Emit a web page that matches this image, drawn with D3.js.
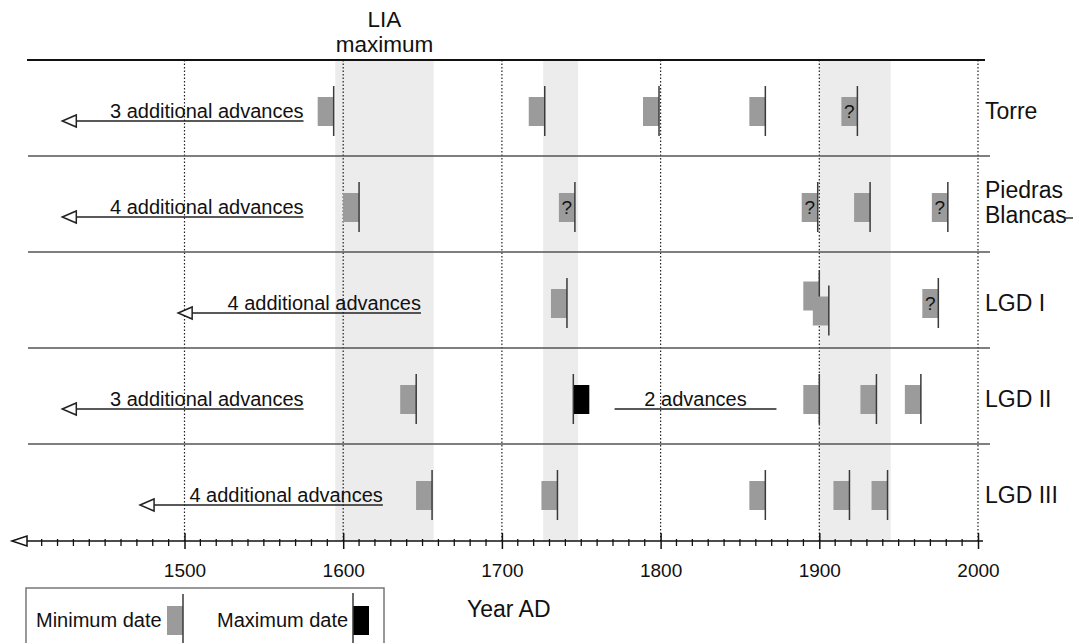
<!DOCTYPE html>
<html>
<head>
<meta charset="utf-8">
<script src="https://cdn.jsdelivr.net/npm/d3@7"></script>
<style>
  body { margin: 0; background: #fff; }
  svg { display: block; font-family: "Liberation Sans", Arial, sans-serif; }
</style>
</head>
<body>
<svg id="chart" width="1073" height="643"></svg>
<script>
// glaciers, top to bottom
const rows = ["Torre", "Piedras Blancas", "LGD I", "LGD II", "LGD III"]
const rowLabels = [["Torre"], ["Piedras", "Blancas"], ["LGD I"], ["LGD II"], ["LGD III"]]

// shaded periods (LIA maximum and the two later ones)
const bands = [[1595, 1657], [1726, 1748], [1900, 1945]]

const centuryTicks = [1500, 1600, 1700, 1800, 1900, 2000]
const minorTicks = d3.range(1410, 2000, 10).filter(d => d % 100 !== 0)

// minimum dates: glacier, year, uncertain?, stack (-1 up / 1 down when two overlap)
const minDates = [
  ["Torre", 1594, false, 0],
  ["Torre", 1727, false, 0],
  ["Torre", 1799, false, 0],
  ["Torre", 1866, false, 0],
  ["Torre", 1924, true, 0],
  ["Piedras Blancas", 1610, false, 0],
  ["Piedras Blancas", 1746, true, 0],
  ["Piedras Blancas", 1899, true, 0],
  ["Piedras Blancas", 1932, false, 0],
  ["Piedras Blancas", 1981, true, 0],
  ["LGD I", 1741, false, 0],
  ["LGD I", 1900, false, -1],
  ["LGD I", 1906, false, 1],
  ["LGD I", 1975, true, 0],
  ["LGD II", 1646, false, 0],
  ["LGD II", 1900, false, 0],
  ["LGD II", 1936, false, 0],
  ["LGD II", 1964, false, 0],
  ["LGD III", 1656, false, 0],
  ["LGD III", 1735, false, 0],
  ["LGD III", 1866, false, 0],
  ["LGD III", 1919, false, 0],
  ["LGD III", 1943, false, 0]
]

// maximum dates: glacier, year
const maxDates = [["LGD II", 1745]]

// notes: glacier, start year, end year, text, arrow?
const notes = [
  ["Torre", 1423, 1575, "3 additional advances", true],
  ["Piedras Blancas", 1423, 1575, "4 additional advances", true],
  ["LGD I", 1496, 1649, "4 additional advances", true],
  ["LGD II", 1423, 1575, "3 additional advances", true],
  ["LGD III", 1472, 1625, "4 additional advances", true],
  ["LGD II", 1771, 1873, "2 advances", false]
]

const svg = d3.select("#chart")
const axisY = 541
const markW = 16
const gray = "#9b9b9b"
const dark = "#3a3a3a"

const x = d3.scaleLinear().domain([1500, 2000]).range([184.5, 978])
const y = d3.scaleBand().domain(rows).range([60, 540])

// shaded periods
svg.append("g").selectAll("rect").data(bands).join("rect")
  .attr("x", d => x(d[0]))
  .attr("width", d => x(d[1]) - x(d[0]))
  .attr("y", 60)
  .attr("height", axisY - 60)
  .attr("fill", "#ececec")

// dotted century lines
svg.append("g").selectAll("line").data(centuryTicks).join("line")
  .attr("x1", d => x(d)).attr("x2", d => x(d))
  .attr("y1", 60).attr("y2", axisY)
  .attr("stroke", "#222").attr("stroke-width", 1.2)
  .attr("stroke-dasharray", "1.5,2")

// row separators
svg.append("g").selectAll("line").data(rows.slice(1)).join("line")
  .attr("x1", 28).attr("x2", 990)
  .attr("y1", d => y(d)).attr("y2", d => y(d))
  .attr("stroke", "#555").attr("stroke-width", 1.5)
svg.append("line")
  .attr("x1", 27).attr("x2", 985).attr("y1", 60).attr("y2", 60)
  .attr("stroke", "#111").attr("stroke-width", 2)

// "LIA maximum"
const lia = svg.append("text")
  .attr("text-anchor", "middle").attr("font-size", 22.5).attr("fill", "#111")
lia.append("tspan").attr("x", x((bands[0][0] + bands[0][1]) / 2)).attr("y", 27).text("LIA")
lia.append("tspan").attr("x", x((bands[0][0] + bands[0][1]) / 2)).attr("y", 52).text("maximum")

// minimum date markers
const mins = svg.append("g").selectAll("g").data(minDates).join("g")
  .attr("transform", d => `translate(${x(d[1])},${y(d[0]) + d[3] * 7.5})`)
mins.append("rect")
  .attr("x", -markW).attr("width", markW)
  .attr("y", 37).attr("height", 29)
  .attr("fill", gray)
mins.append("line")
  .attr("y1", 26).attr("y2", 76)
  .attr("stroke", dark).attr("stroke-width", 1.5)
mins.filter(d => d[2]).append("text")
  .attr("x", -markW / 2).attr("y", 58)
  .attr("text-anchor", "middle").attr("font-size", 19).attr("fill", "#111")
  .text("?")

// maximum date markers
const maxs = svg.append("g").selectAll("g").data(maxDates).join("g")
  .attr("transform", d => `translate(${x(d[1])},${y(d[0])})`)
maxs.append("rect")
  .attr("x", 0).attr("width", markW)
  .attr("y", 37).attr("height", 29)
  .attr("fill", "#000")
maxs.append("line")
  .attr("y1", 26).attr("y2", 76)
  .attr("stroke", dark).attr("stroke-width", 1.5)

// notes with arrows
const noteG = svg.append("g").selectAll("g").data(notes).join("g")
  .attr("transform", d => `translate(0,${y(d[0]) + 61})`)
noteG.append("line")
  .attr("x1", d => x(d[1]) + (d[4] ? 13 : 0))
  .attr("x2", d => x(d[2]))
  .attr("stroke", "#222").attr("stroke-width", 1.5)
noteG.filter(d => d[4]).append("path")
  .attr("d", d => `M${x(d[1])},0 L${x(d[1]) + 14},-6 L${x(d[1]) + 14},6 Z`)
  .attr("fill", "#fff").attr("stroke", "#222").attr("stroke-width", 1.5)
noteG.append("text")
  .attr("x", d => d[4] ? x(d[2]) : (x(d[1]) + x(d[2])) / 2)
  .attr("y", -3)
  .attr("text-anchor", d => d[4] ? "end" : "middle")
  .attr("font-size", 20).attr("fill", "#111")
  .text(d => d[3])

// glacier names
const names = svg.append("g").selectAll("text").data(rows).join("text")
  .attr("font-size", 23).attr("fill", "#111")
  .attr("y", (d, i) => y(d) + (rowLabels[i].length > 1 ? 42 : 59))
names.selectAll("tspan").data((d, i) => rowLabels[i]).join("tspan")
  .attr("x", 985)
  .attr("dy", (d, i) => i === 0 ? 0 : 25)
  .text(d => d)
svg.append("line")
  .attr("x1", 1064).attr("x2", 1073).attr("y1", 218).attr("y2", 218)
  .attr("stroke", "#333").attr("stroke-width", 1.5)

// time axis
const axisG = svg.append("g").attr("transform", `translate(0,${axisY})`)
axisG.append("line")
  .attr("x1", 20).attr("x2", 983)
  .attr("stroke", "#111").attr("stroke-width", 1.5)
axisG.append("path")
  .attr("d", "M12,0 L27,-5 L27,5 Z")
  .attr("fill", "#fff").attr("stroke", "#111").attr("stroke-width", 1.5)
axisG.append("g").selectAll("line").data(minorTicks).join("line")
  .attr("x1", d => x(d)).attr("x2", d => x(d))
  .attr("y1", -2).attr("y2", 5)
  .attr("stroke", "#111").attr("stroke-width", 1.3)

const major = axisG.append("g")
  .call(d3.axisBottom(x).tickValues(centuryTicks).tickFormat(d3.format("d")).tickSize(8).tickSizeOuter(0))
major.select(".domain").remove()
major.selectAll(".tick line").attr("y1", -8).attr("stroke", "#111").attr("stroke-width", 1.5)
major.selectAll(".tick text")
  .attr("y", 36).attr("dy", 0)
  .attr("font-size", 19).attr("font-family", "Liberation Sans, Arial, sans-serif").attr("fill", "#111")

svg.append("text")
  .attr("x", 467).attr("y", 617)
  .attr("font-size", 23).attr("fill", "#111")
  .text("Year AD")

// legend
const legend = svg.append("g")
legend.append("rect")
  .attr("x", 26).attr("y", 588).attr("width", 358).attr("height", 80)
  .attr("fill", "none").attr("stroke", "#777").attr("stroke-width", 1.5)
legend.append("text").attr("x", 36).attr("y", 627).attr("font-size", 20).attr("fill", "#111").text("Minimum date")
legend.append("rect").attr("x", 167).attr("y", 606).attr("width", markW).attr("height", 29).attr("fill", gray)
legend.append("line").attr("x1", 183).attr("x2", 183).attr("y1", 594).attr("y2", 643)
  .attr("stroke", dark).attr("stroke-width", 1.5)
legend.append("text").attr("x", 217).attr("y", 627).attr("font-size", 20).attr("fill", "#111").text("Maximum date")
legend.append("rect").attr("x", 353).attr("y", 606).attr("width", markW).attr("height", 29).attr("fill", "#000")
legend.append("line").attr("x1", 353).attr("x2", 353).attr("y1", 593).attr("y2", 643)
  .attr("stroke", dark).attr("stroke-width", 1.5)
</script>
</body>
</html>
